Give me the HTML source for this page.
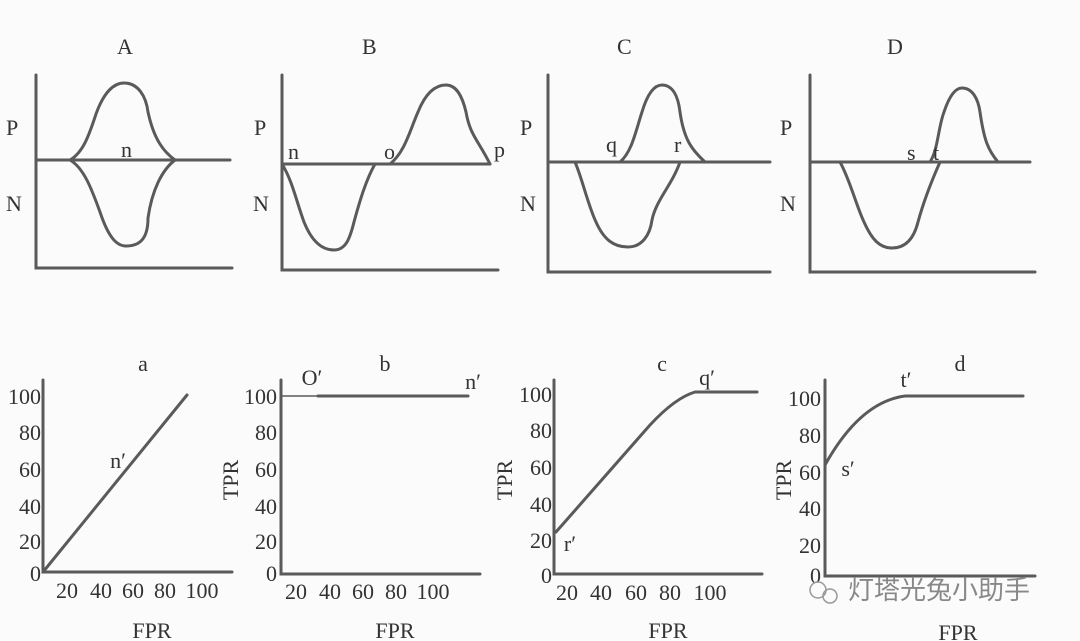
<!DOCTYPE html>
<html><head><meta charset="utf-8"><style>
html,body{margin:0;padding:0;background:#fbfbfb;}
svg{display:block}
text{font-family:"Liberation Serif",serif;fill:#333;}
</style></head><body>
<svg width="1080" height="641" viewBox="0 0 1080 641" xmlns="http://www.w3.org/2000/svg">
<rect width="1080" height="641" fill="#fbfbfb"/>
<g stroke="#5a5a5a" stroke-width="3" fill="none" stroke-linecap="round">
<path d="M36 75 V268 H232"/><path d="M36 160 H230"/>
<path d="M70 160 C84 152 90 132 96 114 C104 92 114 83 124 83 C138 83 146 96 148 112 C154 140 164 152 175 160"/>
<path d="M70 160 C84 168 92 190 100 212 C108 236 116 246 126 246 C142 246 148 236 148 218 C152 190 162 170 175 160"/>
<path d="M282 75 V270 H498"/><path d="M282 164 H490"/>
<path d="M282 164 C292 180 296 200 304 222 C312 242 322 250 334 250 C346 250 350 238 354 222 C360 200 366 180 375 164"/>
<path d="M390 164 C405 152 410 130 418 112 C426 92 436 85 446 85 C456 85 462 95 466 112 C470 135 478 140 490 164"/>
<path d="M548 75 V272 H770"/><path d="M548 162 H770"/>
<path d="M620 162 C632 152 636 130 642 112 C648 92 655 85 662 85 C672 85 678 95 680 112 C684 140 692 150 705 162"/>
<path d="M575 162 C582 178 588 205 596 222 C604 240 614 247 628 247 C642 247 650 235 652 220 C656 200 672 185 680 162"/>
<path d="M810 75 V272 H1035"/><path d="M810 162 H1030"/>
<path d="M930 162 C938 150 938 128 944 112 C950 94 956 88 962 88 C972 88 978 98 980 112 C984 140 988 150 998 162"/>
<path d="M840 162 C850 180 856 205 864 222 C872 240 880 248 892 248 C906 248 914 238 918 222 C924 200 932 180 940 162"/>
</g>
<g font-size="22">
<text x="117" y="54">A</text><text x="6" y="135">P</text><text x="6" y="211">N</text><text x="121" y="157">n</text>
<text x="362" y="54">B</text><text x="254" y="135">P</text><text x="253" y="211">N</text><text x="288" y="159">n</text><text x="384" y="159">o</text><text x="494" y="157">p</text>
<text x="617" y="54">C</text><text x="520" y="135">P</text><text x="520" y="211">N</text><text x="606" y="152">q</text><text x="674" y="152">r</text>
<text x="887" y="54">D</text><text x="780" y="135">P</text><text x="780" y="211">N</text><text x="907" y="160">s</text><text x="933" y="160">t</text>
</g>
<g stroke="#5a5a5a" stroke-width="3" fill="none" stroke-linecap="round">
<path d="M43 380 V572 H232"/><path d="M43 572 L187 395"/>
<path d="M281 380 V574 H480"/><path d="M282 396 H318" stroke-width="1.5"/><path d="M318 396 H468"/>
<path d="M554 380 V574 H762"/><path d="M556 532 L650 425 Q675 398 695 392 H757"/>
<path d="M825 380 V576 H1035"/><path d="M825 465 Q860 402 905 396 H1023"/>
</g>
<g font-size="22" text-anchor="end">
<text x="41" y="404">100</text><text x="41" y="440">80</text><text x="41" y="477">60</text><text x="41" y="514">40</text><text x="41" y="549">20</text><text x="41" y="581">0</text>
<text x="277" y="404">100</text><text x="277" y="440">80</text><text x="277" y="477">60</text><text x="277" y="514">40</text><text x="277" y="549">20</text><text x="277" y="581">0</text>
<text x="552" y="402">100</text><text x="552" y="438">80</text><text x="552" y="475">60</text><text x="552" y="512">40</text><text x="552" y="548">20</text><text x="552" y="583">0</text>
<text x="821" y="406">100</text><text x="821" y="443">80</text><text x="821" y="480">60</text><text x="821" y="516">40</text><text x="821" y="553">20</text><text x="821" y="583">0</text>
</g>
<g font-size="22" text-anchor="middle">
<text x="67" y="598">20</text><text x="101" y="598">40</text><text x="133" y="598">60</text><text x="165" y="598">80</text><text x="202" y="598">100</text>
<text x="296" y="599">20</text><text x="330" y="599">40</text><text x="363" y="599">60</text><text x="396" y="599">80</text><text x="433" y="599">100</text>
<text x="567" y="600">20</text><text x="601" y="600">40</text><text x="636" y="600">60</text><text x="670" y="600">80</text><text x="710" y="600">100</text>
<text x="143" y="371">a</text><text x="385" y="371">b</text><text x="662" y="371">c</text><text x="960" y="371">d</text>
<text x="152" y="638">FPR</text><text x="395" y="638">FPR</text><text x="668" y="638">FPR</text><text x="958" y="640">FPR</text>
<text x="118" y="468">n′</text><text x="312" y="385">O′</text><text x="473" y="389">n′</text>
<text x="707" y="385">q′</text><text x="570" y="551">r′</text><text x="848" y="476">s′</text><text x="906" y="387">t′</text>
</g>
<g font-size="22" text-anchor="middle">
<text transform="translate(238,480) rotate(-90)">TPR</text>
<text transform="translate(512,480) rotate(-90)">TPR</text>
<text transform="translate(791,480) rotate(-90)">TPR</text>
</g>
<text x="848" y="599" font-size="26" style="font-family:'Liberation Sans','Noto Sans CJK SC',sans-serif;fill:#888">灯塔光兔小助手</text>
<circle cx="818" cy="590" r="8" fill="none" stroke="#999" stroke-width="1.5"/>
<circle cx="830" cy="596" r="7" fill="none" stroke="#999" stroke-width="1.5"/>
</svg>
</body></html>
